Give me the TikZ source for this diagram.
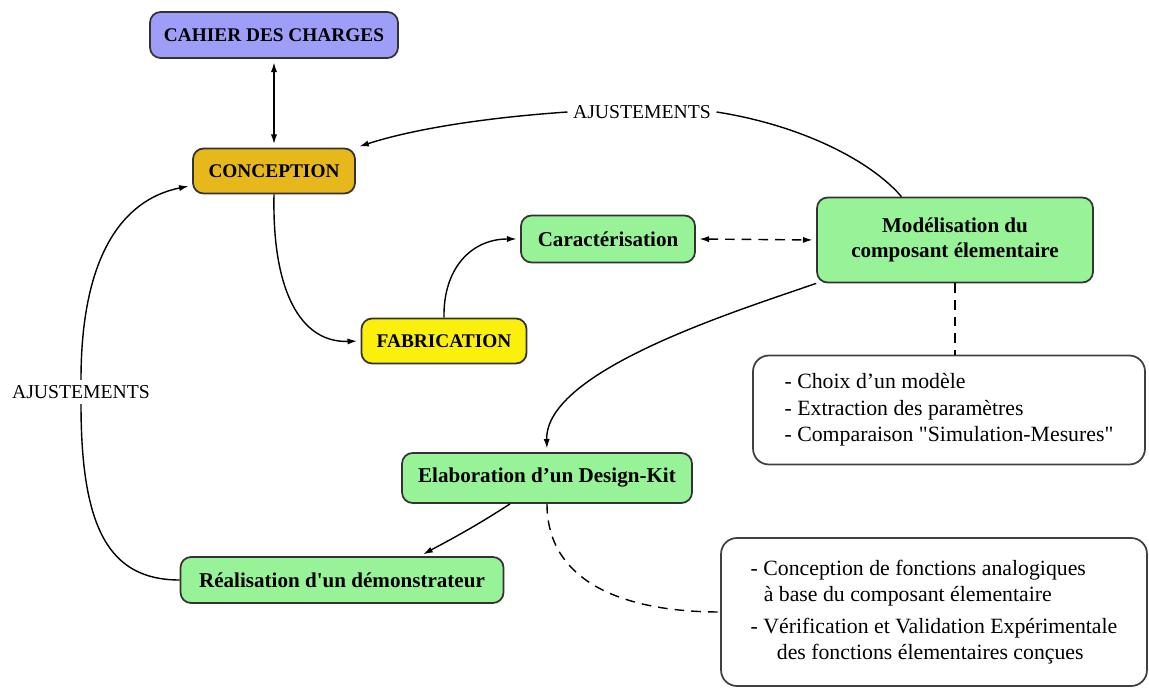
\documentclass[tikz,border=0pt]{standalone}
\usepackage{fontspec}
\setmainfont{Liberation Serif}[Ligatures=TeXOff]
\usepackage{tikz}
\usetikzlibrary{
	arrows.meta,
	calc,
	positioning
}
\definecolor{CahierBlue}{RGB}{158, 158, 248}
\definecolor{ConceptionGold}{RGB}{230, 184, 28}
\definecolor{FabYellow}{RGB}{250, 240, 12}
\definecolor{StepGreen}{RGB}{152, 242, 152}

\begin{document}
\begin{tikzpicture}[x=0.02cm, y=-0.02cm,
		>={Latex[length=5.5pt,width=3.5pt]},
		box/.style={draw=black!80, line width=1pt, rounded corners=6pt, align=center, inner sep=2pt, font=\fontsize{12}{14.5}\selectfont\bfseries},
		capsbox/.style={box, font=\fontsize{11}{13}\selectfont\bfseries},
		listbox/.style={draw=black!75, line width=1pt, rounded corners=9pt, align=left, font=\fontsize{12.4}{15}\selectfont},
		lbl/.style={inner sep=3pt, font=\fontsize{11.2}{13}\selectfont},
		link/.style={line width=0.8pt, ->, shorten >=2pt},
		dlink/.style={line width=0.8pt, dash pattern=on 5.5pt off 4pt}]
		\useasboundingbox (0,0) rectangle (1149,688);
		\node[capsbox, fill=CahierBlue, minimum width=4.96cm, minimum height=0.92cm] (cahier) at (274,35) {CAHIER DES CHARGES};
		\node[capsbox, fill=ConceptionGold, minimum width=3.24cm, minimum height=0.9cm] (concep) at (274,171) {CONCEPTION};
		\node[capsbox, fill=FabYellow, minimum width=3.3cm, minimum height=0.9cm] (fabric) at (444,341) {FABRICATION};
		\node[box, fill=StepGreen, minimum width=3.48cm, minimum height=0.94cm] (caract) at (608,239) {Caractérisation};
		\node[box, fill=StepGreen, minimum width=5.52cm, minimum height=1.7cm] (modele) at (955,240) {Modélisation du\\composant élementaire};
		\node[box, fill=StepGreen, minimum width=5.8cm, minimum height=1cm] (design) at (547,478) {Elaboration d’un Design-Kit};
		\node[box, fill=StepGreen, minimum width=6.46cm, minimum height=0.92cm] (demo) at (342,580) {Réalisation d'un démonstrateur};
		\node[listbox, minimum width=7.84cm, minimum height=2.18cm] (taches) at (949,410) {- Choix d’un modèle\\- Extraction des paramètres\\- Comparaison "Simulation-Mesures"};
		\node[listbox, minimum width=8.52cm, minimum height=2.96cm] (fonctions) at (934,612) {- Conception de fonctions analogiques\\\hspace*{0.6em}à base du composant élementaire\\[3pt]- Vérification et Validation Expérimentale\\\hspace*{1.2em}des fonctions élementaires conçues};
		\node[lbl] (ajustH) at (642,112) {AJUSTEMENTS};
		\node[lbl] (ajustV) at (81,392) {AJUSTEMENTS};
		\draw[link, <->, shorten <=2pt] (cahier.south) -- (concep.north);
		\draw[link] (modele.141) .. controls (870,160) and (800,125) .. (ajustH.east)
			(ajustH.west) .. controls (480,118) and (410,130) .. (concep.north east);
		\draw[link] (concep.south) .. controls (272,290) and (300,343) .. (fabric.west);
		\draw[link] (fabric.north) .. controls (443,270) and (470,239) .. (caract.west);
		\draw[link, dlink, <->, shorten <=2pt] (caract.east) -- (modele.west);
		\draw[link] (modele.south west) .. controls (740,310) and (545,370) .. (design.north);
		\draw[dlink] (modele.south) -- (modele.south |- taches.north);
		\draw[link] (design.215) .. controls (470,530) and (440,545) .. (demo.17);
		\draw[dlink] (design.south) .. controls (547,580) and (620,612) .. (fonctions.west);
		\draw[link] (demo.west) .. controls (110,580) and (81,530) .. (ajustV.south)
			(ajustV.north) .. controls (81,260) and (120,200) .. (concep.190);
	\end{tikzpicture}
\end{document}
